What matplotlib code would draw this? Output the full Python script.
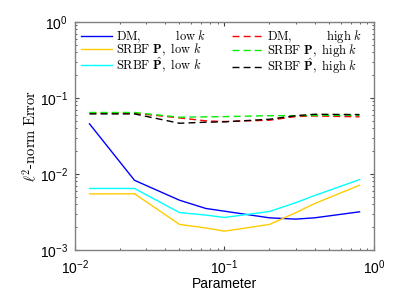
import matplotlib
matplotlib.use("Agg")
import matplotlib.pyplot as plt
from matplotlib.ticker import LogLocator, NullFormatter

plt.rcParams['mathtext.fontset'] = 'cm'
plt.rcParams['font.family'] = ['Liberation Sans', 'DejaVu Sans']

params = [0.0125, 0.025, 0.05, 0.075, 0.1, 0.2, 0.3, 0.4, 0.8]

dm_low = [0.0457, 0.00826, 0.00452, 0.00352, 0.00324, 0.00265, 0.00255, 0.00265, 0.00318]
srbf_p_low = [0.00547, 0.0055, 0.00217, 0.00195, 0.00177, 0.00217, 0.0031, 0.00408, 0.00711]
srbf_phat_low = [0.00645, 0.00645, 0.00311, 0.00288, 0.00268, 0.00321, 0.0042, 0.0052, 0.00844]

dm_high = [0.063, 0.063, 0.0547, 0.050, 0.049, 0.051, 0.057, 0.058, 0.0565]
srbf_p_high = [0.0644, 0.0644, 0.0558, 0.0565, 0.0568, 0.0585, 0.0585, 0.059, 0.0592]
srbf_phat_high = [0.0617, 0.0617, 0.0465, 0.048, 0.0485, 0.0525, 0.0585, 0.061, 0.0605]

labels = [r"$\mathrm{DM},\qquad\ \ \ \mathrm{low}\ k$",
          r"$\mathrm{SRBF}\ \mathbf{P},\ \mathrm{low}\ k$",
          r"$\mathrm{SRBF}\ \hat{\mathbf{P}},\ \mathrm{low}\ k$",
          r"$\mathrm{DM},\qquad\ \ \ \mathrm{high}\ k$",
          r"$\mathrm{SRBF}\ \mathbf{P},\ \mathrm{high}\ k$",
          r"$\mathrm{SRBF}\ \hat{\mathbf{P}},\ \mathrm{high}\ k$"]

fig = plt.figure(figsize=(4.15, 3.05), dpi=100)
ax = fig.add_axes([0.1807, 0.1803, 0.7205, 0.7477])

lw = 1.0
dash = (5, 3)
ax.plot(params, dm_low, color='#0000ff', lw=lw, label=labels[0])
ax.plot(params, srbf_p_low, color='#ffcc00', lw=lw, label=labels[1])
ax.plot(params, srbf_phat_low, color='#00ffff', lw=lw, label=labels[2])
ax.plot(params, dm_high, color='#ff0000', lw=lw, ls='--', dashes=dash, label=labels[3])
ax.plot(params, srbf_p_high, color='#00ee00', lw=lw, ls='--', dashes=dash, label=labels[4])
ax.plot(params, srbf_phat_high, color='#000000', lw=lw, ls='--', dashes=dash, label=labels[5])

ax.set_xscale('log')
ax.set_yscale('log')
ax.set_xlim(1e-2, 1)
ax.set_ylim(1e-3, 1)

ax.xaxis.set_minor_locator(LogLocator(base=10, subs=range(2, 10)))
ax.yaxis.set_minor_locator(LogLocator(base=10, subs=range(2, 10)))
ax.xaxis.set_minor_formatter(NullFormatter())
ax.yaxis.set_minor_formatter(NullFormatter())

ax.tick_params(which='both', direction='in', top=True, right=True, colors='#404040',
               labelcolor='black', labelsize=10)
ax.tick_params(which='major', length=3)
ax.tick_params(which='minor', length=1.5)
ax.tick_params(axis='x', which='major', pad=6)
ax.tick_params(axis='y', which='major', pad=5)

for s in ax.spines.values():
    s.set_color('#808080')
    s.set_linewidth(1.0)

ax.set_xlabel('Parameter', fontsize=10, labelpad=0)
ax.set_ylabel(r"$\ell^2\mathrm{\text{-}norm\ Error}$", fontsize=10.5, labelpad=1)

leg = ax.legend(ncol=2, loc='upper left', bbox_to_anchor=(0.0, 1.0), frameon=False,
                fontsize=9, handlelength=2.5, handletextpad=0.3, columnspacing=2.0,
                labelspacing=-0.22, borderaxespad=0.1)

fig.savefig('out.png', dpi=100)
